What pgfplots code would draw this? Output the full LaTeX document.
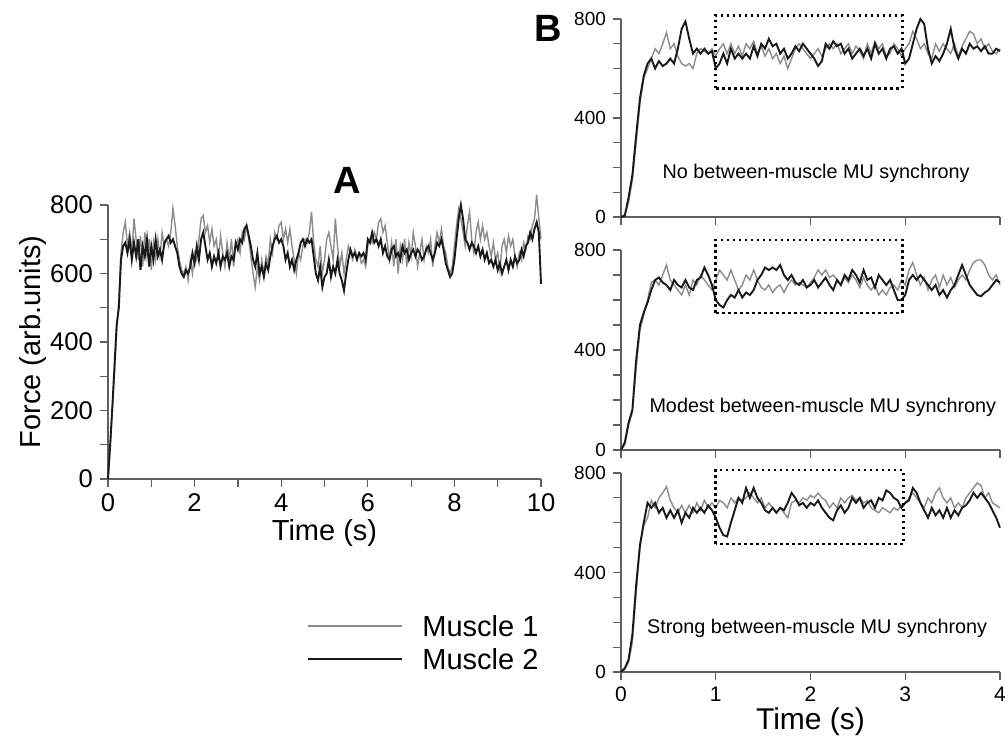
\documentclass[border=0pt]{standalone}
\usepackage{fontspec}
\setmainfont{Liberation Sans}
\usepackage{pgfplots}
\pgfplotsset{compat=1.18}
\usepackage{pgfplotstable}

\definecolor{mone}{RGB}{140,140,140}
\definecolor{mtwo}{RGB}{25,25,25}
\definecolor{axgray}{RGB}{95,95,95}

% panel A: time, muscle 1, muscle 2
\pgfplotstableread{
t m1 m2
0.00 0 0
0.05 90 100
0.10 200 210
0.15 310 330
0.20 430 450
0.25 520 500
0.30 660 640
0.35 720 680
0.40 750 690
0.45 680 660
0.50 720 700
0.55 660 640
0.60 760 690
0.65 700 650
0.70 640 700
0.75 710 610
0.80 620 680
0.85 720 650
0.90 650 700
0.95 700 620
1.00 610 680
1.05 690 640
1.10 640 700
1.15 700 650
1.20 650 670
1.25 720 640
1.30 680 690
1.35 700 700
1.40 680 710
1.45 720 690
1.50 790 700
1.55 740 680
1.60 680 660
1.65 640 620
1.70 610 600
1.75 600 590
1.80 620 610
1.85 580 600
1.90 640 620
1.95 600 660
2.00 660 630
2.05 640 680
2.10 700 640
2.15 760 700
2.20 770 720
2.25 720 680
2.30 740 640
2.35 690 660
2.40 730 620
2.45 680 650
2.50 700 630
2.55 640 660
2.60 710 620
2.65 660 650
2.70 620 640
2.75 690 660
2.80 640 620
2.85 700 650
2.90 620 640
2.95 680 690
3.00 700 670
3.05 660 700
3.10 720 690
3.15 700 730
3.20 740 740
3.25 700 710
3.30 650 680
3.35 600 640
3.40 560 620
3.45 620 660
3.50 580 600
3.55 640 620
3.60 600 590
3.65 650 630
3.70 630 610
3.75 700 650
3.80 660 680
3.85 720 700
3.90 700 710
3.95 740 690
4.00 750 700
4.05 700 680
4.10 730 640
4.15 690 660
4.20 730 620
4.25 680 640
4.30 640 610
4.35 600 640
4.40 660 660
4.45 640 690
4.50 680 700
4.55 700 680
4.60 690 700
4.65 720 690
4.70 780 700
4.75 690 650
4.80 640 600
4.85 620 580
4.90 680 620
4.95 600 560
5.00 640 590
5.05 700 600
5.10 720 640
5.15 680 590
5.20 640 620
5.25 760 600
5.30 680 640
5.35 620 600
5.40 660 580
5.45 600 550
5.50 640 600
5.55 680 640
5.60 660 670
5.65 640 650
5.70 670 660
5.75 650 640
5.80 660 660
5.85 630 650
5.90 640 660
5.95 620 640
6.00 680 700
6.05 700 690
6.10 690 720
6.15 720 690
6.20 700 700
6.25 750 680
6.30 760 700
6.35 720 660
6.40 740 680
6.45 690 650
6.50 640 640
6.55 690 670
6.60 620 680
6.65 700 650
6.70 600 660
6.75 680 640
6.80 640 680
6.85 700 660
6.90 620 670
6.95 690 640
7.00 650 660
7.05 720 670
7.10 680 650
7.15 620 670
7.20 660 660
7.25 700 640
7.30 640 650
7.35 680 670
7.40 660 680
7.45 700 660
7.50 620 640
7.55 680 660
7.60 720 690
7.65 690 680
7.70 730 700
7.75 680 670
7.80 660 630
7.85 620 610
7.90 600 590
7.95 620 600
8.00 680 640
8.05 740 700
8.10 790 760
8.15 760 800
8.20 720 760
8.25 680 700
8.30 740 690
8.35 780 670
8.40 700 690
8.45 660 680
8.50 720 660
8.55 750 680
8.60 700 650
8.65 740 670
8.70 700 640
8.75 720 660
8.80 680 630
8.85 650 640
8.90 690 620
8.95 640 640
9.00 660 610
9.05 610 630
9.10 680 600
9.15 700 620
9.20 660 640
9.25 710 610
9.30 680 640
9.35 700 620
9.40 650 650
9.45 620 630
9.50 660 640
9.55 640 670
9.60 690 650
9.65 670 680
9.70 710 690
9.75 700 720
9.80 740 700
9.85 760 730
9.90 830 750
9.95 760 720
10.00 700 570
}\dataA

% panel B, no synchrony
\pgfplotstableread{
t m1 m2
0.00 0 0
0.04 10 5
0.08 60 80
0.12 150 170
0.16 300 330
0.20 460 480
0.24 560 570
0.28 600 620
0.32 640 640
0.36 680 600
0.40 660 630
0.44 700 610
0.48 745 620
0.52 680 640
0.56 700 620
0.60 650 680
0.64 620 760
0.68 610 790
0.72 620 720
0.76 600 660
0.80 660 680
0.84 680 660
0.88 670 680
0.92 660 660
0.96 680 670
1.00 650 600
1.04 680 620
1.08 700 660
1.12 660 620
1.16 700 680
1.20 660 640
1.24 690 660
1.28 650 640
1.32 700 660
1.36 680 640
1.40 710 690
1.44 660 650
1.48 690 700
1.52 650 680
1.56 680 720
1.60 640 690
1.64 660 700
1.68 620 660
1.72 650 680
1.76 600 640
1.80 640 660
1.84 680 690
1.88 700 670
1.92 680 700
1.96 660 680
2.00 640 660
2.04 660 640
2.08 680 610
2.12 650 630
2.16 680 700
2.20 700 680
2.24 680 710
2.28 700 690
2.32 660 700
2.36 680 660
2.40 700 680
2.44 660 640
2.48 690 660
2.52 670 680
2.56 640 650
2.60 700 680
2.64 660 640
2.68 710 700
2.72 680 660
2.76 700 680
2.80 650 640
2.84 660 680
2.88 700 690
2.92 680 660
2.96 650 680
3.00 680 620
3.04 700 640
3.08 750 700
3.12 720 760
3.16 680 800
3.20 700 780
3.24 660 680
3.28 640 620
3.32 700 650
3.36 670 630
3.40 700 660
3.44 680 700
3.48 660 760
3.52 700 680
3.56 650 640
3.60 690 680
3.64 720 660
3.68 750 700
3.72 740 680
3.76 700 690
3.80 720 670
3.84 680 690
3.88 700 660
3.92 670 660
3.96 660 680
4.00 680 670
}\dataBno

% panel B, modest synchrony
\pgfplotstableread{
t m1 m2
0.00 0 0
0.04 20 30
0.08 100 110
0.12 150 160
0.16 330 360
0.20 480 500
0.24 540 550
0.28 600 590
0.32 670 640
0.36 680 680
0.40 660 690
0.44 700 670
0.48 740 660
0.52 680 640
0.56 660 680
0.60 640 660
0.64 620 650
0.68 660 680
0.72 620 650
0.76 680 640
0.80 660 680
0.84 700 690
0.88 680 730
0.92 660 700
0.96 640 660
1.00 680 600
1.04 720 580
1.08 700 570
1.12 680 600
1.16 720 620
1.20 680 610
1.24 640 640
1.28 660 610
1.32 700 630
1.36 680 620
1.40 720 640
1.44 680 680
1.48 650 700
1.52 640 730
1.56 660 720
1.60 630 730
1.64 650 720
1.68 660 740
1.72 630 700
1.76 660 680
1.80 680 700
1.84 660 670
1.88 670 660
1.92 660 680
1.96 650 650
2.00 670 660
2.04 690 680
2.08 720 650
2.12 700 670
2.16 720 690
2.20 690 660
2.24 700 640
2.28 680 680
2.32 660 660
2.36 690 700
2.40 670 680
2.44 700 720
2.48 680 700
2.52 650 670
2.56 690 720
2.60 660 680
2.64 640 690
2.68 660 650
2.72 620 700
2.76 640 680
2.80 620 660
2.84 650 680
2.88 660 640
2.92 640 600
2.96 680 600
3.00 660 620
3.04 720 680
3.08 750 700
3.12 700 680
3.16 660 700
3.20 690 680
3.24 640 660
3.28 680 640
3.32 700 660
3.36 650 620
3.40 700 640
3.44 660 610
3.48 690 640
3.52 650 660
3.56 680 700
3.60 700 740
3.64 680 700
3.68 720 660
3.72 750 640
3.76 760 620
3.80 760 615
3.84 740 630
3.88 700 640
3.92 680 660
3.96 700 680
4.00 660 670
}\dataBmod

% panel B, strong synchrony
\pgfplotstableread{
t m1 m2
0.00 0 0
0.04 10 15
0.08 40 50
0.12 120 150
0.16 320 350
0.20 500 510
0.24 590 600
0.28 620 680
0.32 690 660
0.36 660 680
0.40 700 640
0.44 720 660
0.48 745 620
0.52 690 650
0.56 660 620
0.60 640 650
0.64 670 600
0.68 640 640
0.72 670 620
0.76 640 660
0.80 680 640
0.84 650 660
0.88 690 640
0.92 660 670
0.96 680 650
1.00 660 620
1.04 690 580
1.08 680 550
1.12 660 545
1.16 700 600
1.20 680 650
1.24 700 700
1.28 690 680
1.32 700 740
1.36 720 700
1.40 700 740
1.44 680 700
1.48 700 680
1.52 660 650
1.56 680 640
1.60 660 660
1.64 640 640
1.68 660 660
1.72 640 650
1.76 620 680
1.80 680 720
1.84 690 700
1.88 680 670
1.92 700 680
1.96 690 660
2.00 710 680
2.04 700 670
2.08 720 690
2.12 700 660
2.16 690 640
2.20 660 620
2.24 680 610
2.28 660 650
2.32 700 670
2.36 680 640
2.40 700 660
2.44 710 700
2.48 690 680
2.52 700 700
2.56 680 660
2.60 690 680
2.64 660 690
2.68 650 660
2.72 640 700
2.76 660 690
2.80 650 730
2.84 640 720
2.88 660 700
2.92 650 690
2.96 670 660
3.00 680 680
3.04 700 690
3.08 720 740
3.12 700 720
3.16 680 680
3.20 660 650
3.24 700 620
3.28 680 660
3.32 720 630
3.36 740 650
3.40 700 620
3.44 680 660
3.48 700 620
3.52 660 650
3.56 680 630
3.60 660 660
3.64 700 670
3.68 720 690
3.72 740 720
3.76 760 700
3.80 750 720
3.84 700 700
3.88 720 680
3.92 680 650
3.96 670 620
4.00 660 580
}\dataBstr

\tikzset{
  mus1/.style={mone, line width=0.7pt},
  mus2/.style={mtwo, line width=0.95pt},
  zoombox/.style={black, line width=1.3pt, dash pattern=on 1.3pt off 1.7pt},
}
\pgfplotsset{
  forcebase/.style={
    scale only axis,
    axis lines*=left,
    axis line style={axgray, line width=0.6pt},
    tick style={axgray, line width=0.6pt},
    tick align=outside,
    major tick length=4pt,
    minor tick length=4pt,
    enlargelimits=false,
    clip=false,
    /pgf/number format/assume math mode=true,
  },
  panelB/.style={
    forcebase,
    width=189.5pt, height=99.5pt,
    xmin=0, xmax=4, ymin=0, ymax=800,
    xtick={0,1,2,3,4},
    ytick={0,400,800},
    minor ytick={100,200,300,500,600,700},
    yticklabel style={font=\fontsize{9.5}{10}\selectfont},
    xticklabel style={font=\fontsize{10.5}{12}\selectfont},
  },
}

\begin{document}
\begin{tikzpicture}
\useasboundingbox (0,0) rectangle (502.5pt,373pt);

% ---- panel A ----
\begin{axis}[
  forcebase,
  at={(54pt,133.5pt)}, anchor=south west,
  width=216.5pt, height=137pt,
  xmin=0, xmax=10, ymin=0, ymax=800,
  xtick={0,2,4,6,8,10},
  minor xtick={1,3,5,7,9},
  ytick={0,200,400,600,800},
  minor ytick={100,300,500,700},
  ticklabel style={font=\fontsize{12.8}{14}\selectfont},
  xlabel={Time (s)},
  ylabel={Force (arb.units)},
  label style={font=\fontsize{14.5}{16}\selectfont},
  xlabel style={yshift=3pt},
  ylabel style={yshift=-5pt},
]
\addplot[mus1] table[x=t, y=m1] {\dataA};
\addplot[mus2] table[x=t, y=m2] {\dataA};
\end{axis}

% ---- panel B, top ----
\begin{axis}[
  panelB,
  at={(310.5pt,264.5pt)}, anchor=south west,
  height=99pt,
  xticklabels={},
]
\addplot[mus1] table[x=t, y=m1] {\dataBno};
\addplot[mus2] table[x=t, y=m2] {\dataBno};
\draw[zoombox] (axis cs:1,520) rectangle (axis cs:2.97,815);
\node[font=\fontsize{9.9}{11}\selectfont] at (axis cs:2.06,178) {No between-muscle MU synchrony};
\end{axis}

% ---- panel B, middle ----
\begin{axis}[
  panelB,
  at={(310.5pt,148pt)}, anchor=south west,
  height=100pt,
  xticklabels={},
]
\addplot[mus1] table[x=t, y=m1] {\dataBmod};
\addplot[mus2] table[x=t, y=m2] {\dataBmod};
\draw[zoombox] (axis cs:1,548) rectangle (axis cs:2.97,840);
\node[font=\fontsize{9.9}{11}\selectfont] at (axis cs:2.13,172) {Modest between-muscle MU synchrony};
\end{axis}

% ---- panel B, bottom ----
\begin{axis}[
  panelB,
  at={(310.5pt,37pt)}, anchor=south west,
  xlabel={Time (s)},
  xlabel style={font=\fontsize{15}{17}\selectfont, yshift=4pt},
]
\addplot[mus1] table[x=t, y=m1] {\dataBstr};
\addplot[mus2] table[x=t, y=m2] {\dataBstr};
\draw[zoombox] (axis cs:1,515) rectangle (axis cs:2.98,812);
\node[font=\fontsize{9.9}{11}\selectfont] at (axis cs:2.07,177) {Strong between-muscle MU synchrony};
\end{axis}

% panel letters
\node[font=\fontsize{19}{21}\bfseries\selectfont] at (173.5pt,283pt) {A};
\node[font=\fontsize{19}{21}\bfseries\selectfont] at (274pt,359pt) {B};

% legend
\draw[mus1, line width=0.9pt] (154pt,60pt) -- (201pt,60pt);
\draw[mus2, line width=1.1pt] (154pt,43.5pt) -- (201pt,43.5pt);
\node[anchor=west, font=\fontsize{14.5}{16}\selectfont, inner sep=0pt] at (211pt,60pt) {Muscle 1};
\node[anchor=west, font=\fontsize{14.5}{16}\selectfont, inner sep=0pt] at (211pt,43.5pt) {Muscle 2};
\end{tikzpicture}
\end{document}
